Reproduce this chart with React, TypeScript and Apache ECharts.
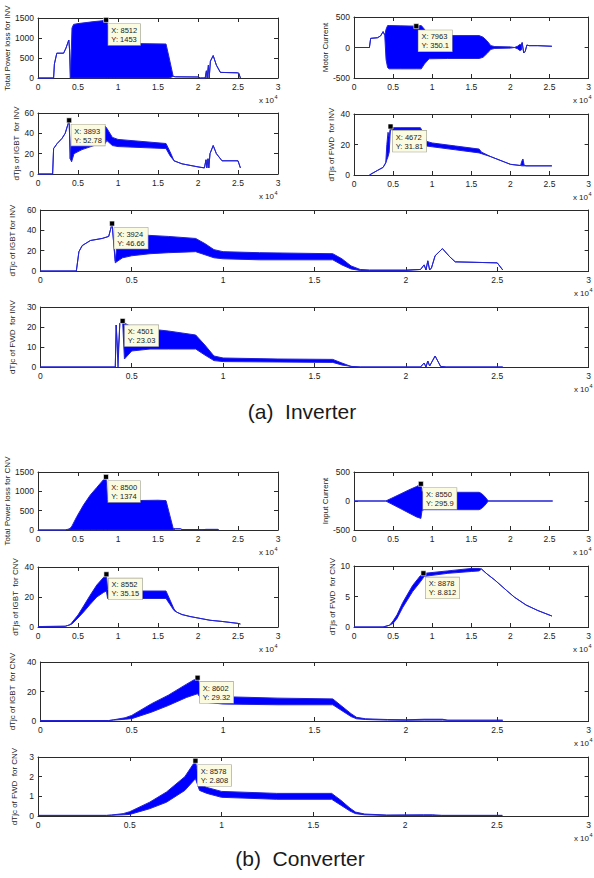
import React, { useEffect, useRef } from "react";
import * as echarts from "echarts";

// ---------------- DATA (x in raw samples) ----------------
// (a) Inverter
const p1X = [0, 1950, 2050, 2350, 3200, 3500, 3850, 3950, 4050, 4250, 4450, 5000, 6000, 7000, 8000, 8512, 8800, 9300, 9700, 12000, 14000, 16000, 16400, 16900, 17200, 20000, 20300, 20900, 21050, 21150, 21300, 21400, 21550, 21900, 22300, 22800, 24900, 25100, 25300];
const p1Hi = [0, 0, 350, 620, 620, 750, 950, 700, 0, 1250, 1340, 1360, 1385, 1410, 1430, 1453, 1300, 900, 870, 860, 855, 850, 500, 40, 30, 25, 0, 0, 180, 0, 320, 0, 420, 560, 320, 140, 130, 120, 0];
const p1Lo = [0, 0, 350, 620, 620, 750, 950, 700, 0, 0, 0, 0, 0, 0, 0, 0, 0, 0, 0, 0, 0, 0, 0, 40, 30, 25, 0, 0, 180, 0, 320, 0, 420, 560, 320, 140, 130, 120, 0];

const p2X = [0, 1970, 2130, 3000, 3400, 3720, 3930, 4100, 4300, 4500, 6000, 7963, 8600, 9000, 9600, 12000, 16000, 16500, 17000, 17500, 18000, 20000, 20500, 20900, 21200, 21400, 21500, 21700, 21900, 22100, 22400, 23500, 25300];
const p2Hi = [0, 0, 150, 160, 190, 260, 200, 300, 360, 360, 355, 350.1, 360, 300, 195, 195, 195, 170, 110, 30, 15, 10, 0, 20, 50, 40, 80, -90, -60, 40, 30, 30, 20];
const p2Lo = [0, 0, 150, 160, 190, 260, 200, -200, -330, -350, -350, -350, -350, -270, -185, -180, -180, -160, -100, -30, -15, -10, 0, -20, -50, -40, 80, -90, -60, 40, 30, 30, 20];

const p3X = [0, 1830, 1950, 2400, 3000, 3400, 3893, 4030, 4200, 4500, 5500, 7000, 8400, 8600, 9300, 10000, 13000, 16000, 16500, 17000, 18000, 20000, 20800, 21000, 21100, 21250, 21350, 21500, 21900, 22300, 23000, 25000, 25300];
const p3Hi = [0, 0, 25, 30, 35, 40, 52.78, 15, 40, 46, 46, 46, 47, 45, 36, 34, 32, 30, 22, 13, 10, 7, 6, 14, 6, 15, 6, 20, 28, 20, 13, 13, 6];
const p3Lo = [0, 0, 25, 30, 35, 40, 52.78, 15, 12, 20, 24, 28, 30, 33, 28, 27, 26, 25, 18, 13, 10, 7, 6, 14, 6, 15, 6, 20, 28, 20, 13, 13, 6];

const p4X = [1970, 3000, 3720, 4060, 4200, 4350, 4500, 4672, 4800, 6000, 8500, 9000, 9300, 10000, 13000, 16000, 16300, 17500, 19200, 20000, 21300, 21450, 21600, 21750, 22000, 25300];
const p4Hi = [0, 3, 5, 8, 20, 28, 25, 31.81, 31, 31, 31, 26, 22, 21, 19, 17, 15, 12, 8.6, 7, 6.2, 9, 10.5, 6.5, 6, 6];
const p4Lo = [0, 3, 5, 8, 10, 12, 15, 31.81, 29.5, 29.5, 29.5, 22, 19, 18.5, 16.5, 14.5, 14, 12, 8.6, 7, 6.2, 6, 6, 6, 6, 6];

const p5X = [0, 1970, 2110, 2290, 2740, 3380, 3740, 3924, 4100, 4250, 4500, 5000, 6000, 7000, 8500, 9000, 9500, 10000, 12000, 16000, 16500, 17000, 17500, 18000, 20000, 20800, 21000, 21100, 21200, 21300, 21400, 21600, 22000, 22400, 22700, 25000, 25300];
const p5Hi = [0, 0, 19, 25, 30, 32, 34, 46.66, 10, 36, 37, 36, 35, 34, 32, 27, 21, 19, 18, 17, 12, 5, 1.5, 1, 1, 1.5, 6, 1, 10, 1, 3, 15, 22, 14, 9, 8, 1];
const p5Lo = [0, 0, 19, 25, 30, 32, 34, 46.66, 8, 10, 13, 15, 17, 18, 19, 16, 13, 12, 11, 11, 6, 2, 0.5, 0.5, 0.5, 1.5, 6, 1, 10, 1, 3, 15, 22, 14, 9, 8, 1];

const p6X = [0, 4100, 4150, 4250, 4350, 4501, 4600, 5000, 6000, 7000, 8500, 9000, 9500, 10000, 13000, 16000, 16500, 17000, 17500, 20800, 21000, 21100, 21200, 21300, 21600, 21900, 22200, 25300];
const p6Hi = [0, 0, 21, 5, 22, 23.03, 22, 20, 19, 18, 16, 11, 5.5, 4.5, 4, 3.8, 2, 0.3, 0, 0, 2, 0, 3, 0.5, 5.5, 0.3, 0, 0];
const p6Lo = [0, 0, 21, 0, 22, 23.03, 4, 8, 9, 9, 9, 6, 3.2, 2.7, 2.5, 2.3, 1, 0.3, 0, 0, 2, 0, 3, 0.5, 5.5, 0.3, 0, 0];

// (b) Converter
const p7X = [0, 3400, 3700, 4000, 4240, 4860, 5700, 6520, 7350, 8180, 8500, 8700, 9000, 12000, 15000, 16000, 16900, 17200, 17800, 18000, 20000, 20500, 21000, 22500, 22600];
const p7Hi = [0, 0, 15, 40, 100, 350, 650, 900, 1100, 1300, 1374, 780, 760, 760, 770, 760, 40, 30, 30, 12, 12, 8, 15, 15, 0];
const p7Lo = [0, 0, 15, 0, 0, 0, 0, 0, 0, 0, 0, 0, 0, 0, 0, 0, 0, 30, 30, 12, 12, 8, 15, 15, 0];

const p8X = [0, 4060, 5000, 6000, 7000, 8000, 8550, 8700, 9000, 12000, 16000, 16300, 16700, 17000, 17200, 25400];
const p8Hi = [0, 0, 60, 125, 190, 250, 295.9, 160, 150, 150, 150, 130, 80, 30, 0, 0];
const p8Lo = [0, 0, -65, -135, -205, -275, -300, -160, -150, -150, -150, -130, -80, -30, 0, 0];

const p9X = [0, 3400, 3700, 4000, 4240, 5000, 5700, 6500, 7350, 8180, 8552, 8700, 9000, 12000, 16000, 16500, 17000, 17300, 18000, 19000, 20000, 21500, 23000, 25000, 25300];
const p9Hi = [0.3, 0.5, 1, 1.5, 3, 8, 14, 21, 28, 33, 35.15, 25, 24, 24, 24, 18, 12, 10, 8.3, 7, 6, 4.5, 3.7, 2.4, 2];
const p9Lo = [0.3, 0.5, 1, 1.5, 2, 6, 10, 15, 20, 23, 24, 19, 18.5, 19, 19, 15, 11, 10, 8.3, 7, 6, 4.5, 3.7, 2.4, 2];

const p10X = [0, 3720, 4560, 5000, 5500, 6230, 7490, 8540, 8878, 9000, 12000, 15000, 16000, 16300, 17000, 18000, 19500, 20500, 22000, 23500, 25300];
const p10Hi = [0, 0, 0.3, 1, 2, 4, 6.8, 8.5, 8.812, 8.8, 9.2, 9.6, 9.6, 9.5, 8.7, 7.7, 6, 4.9, 3.6, 2.7, 1.8];
const p10Lo = [0, 0, 0.3, 0.6, 1.4, 3.2, 5.8, 7.5, 8.1, 8.3, 8.8, 9.1, 9.2, 9.5, 8.7, 7.7, 6, 4.9, 3.6, 2.7, 1.8];

const p11X = [0, 3740, 4000, 4640, 5000, 6080, 7000, 8000, 8602, 8800, 9200, 10000, 13000, 16000, 16500, 17000, 17300, 17800, 19000, 20000, 21000, 22000, 22300, 25300];
const p11Hi = [0.3, 0.3, 0.8, 2.2, 3.8, 11.7, 17.5, 25, 29.32, 22, 18, 16.5, 15.5, 15, 10, 5, 2.5, 1.5, 1, 0.8, 1.2, 1.2, 0.5, 0.5];
const p11Lo = [0.3, 0.3, 0.6, 1.2, 1.6, 6, 10.5, 16, 18.5, 15, 12.5, 11.5, 11, 11, 7, 3, 1.5, 1, 0.6, 0.5, 0.6, 0.6, 0.5, 0.5];

const p12X = [0, 3740, 4000, 4640, 5000, 6080, 7000, 8000, 8578, 8800, 9200, 10000, 13000, 16000, 16500, 17000, 17300, 17800, 19000, 21000, 21500, 22000, 25300];
const p12Hi = [0.03, 0.03, 0.05, 0.12, 0.22, 0.7, 1.22, 2.0, 2.808, 1.6, 1.45, 1.25, 1.15, 1.15, 0.8, 0.4, 0.2, 0.1, 0.05, 0.06, 0.06, 0.03, 0.03];
const p12Lo = [0.03, 0.03, 0.04, 0.06, 0.08, 0.37, 0.7, 1.3, 1.9, 1.3, 1.15, 0.95, 0.85, 0.85, 0.55, 0.25, 0.12, 0.06, 0.03, 0.03, 0.03, 0.03, 0.03];

// axis names
const yNames = [
  "Total Power loss for INV", "Motor Current",
  "dTjs of IGBT  for INV", "dTjs of FWD  for INV",
  "dTjc of IGBT for INV", "dTjc of FWD  for INV",
  "Total Power loss for CNV", "Input Current",
  "dTjs of IGBT  for CNV", "dTjs of FWD  for CNV",
  "dTjc of IGBT  for CNV", "dTjc of FWD  for CNV",
];
// y ranges [min, max, step]
const yRanges = [
  [0, 1500, 500], [-500, 500, 500],
  [0, 60, 20], [0, 40, 20],
  [0, 60, 20], [0, 30, 10],
  [0, 1500, 500], [-500, 500, 500],
  [0, 40, 20], [0, 10, 5],
  [0, 40, 20], [0, 3, 1],
];
// data tips [X, Y]
const tipX = [8512, 7963, 3893, 4672, 3924, 4501, 8500, 8550, 8552, 8878, 8602, 8578];
const tipY = ["1453", "350.1", "52.78", "31.81", "46.66", "23.03", "1374", "295.9", "35.15", "8.812", "29.32", "2.808"];
const xMax = 30000;
const xStep = 5000;
const xScaleLabel = "x 10";
const xScaleExp = "4";
const titles = ["(a)  Inverter", "(b)  Converter"];

const seriesX = [p1X, p2X, p3X, p4X, p5X, p6X, p7X, p8X, p9X, p10X, p11X, p12X];
const seriesHi = [p1Hi, p2Hi, p3Hi, p4Hi, p5Hi, p6Hi, p7Hi, p8Hi, p9Hi, p10Hi, p11Hi, p12Hi];
const seriesLo = [p1Lo, p2Lo, p3Lo, p4Lo, p5Lo, p6Lo, p7Lo, p8Lo, p9Lo, p10Lo, p11Lo, p12Lo];

// ---------------- LAYOUT ----------------
const W = 594;
const H = 878;
// [left, top, width, height, nameGap]
const grids = [
  [38, 18, 240, 60, 27], [354, 17, 238, 61, 25],
  [38, 113, 240, 61, 18], [354, 114, 238, 61, 19],
  [38, 210, 555, 61, 19], [38, 307, 555, 60, 19],
  [38, 472, 240, 58, 27], [354, 472, 238, 58, 24],
  [38, 567, 240, 60, 19], [354, 566, 238, 61, 18],
  [38, 662, 555, 59, 18], [38, 757, 555, 59, 16],
];
const titlePos = [[302, 411], [300, 858]];

const FONT = "'Liberation Sans', Arial, sans-serif";
const BLUE = "#0000ff";
const LINE = "#2323d6";
const AX = "#2a2a2a";

export default function App() {
  const ref = useRef<HTMLDivElement>(null);

  useEffect(() => {
    if (!ref.current) return;
    const chart = echarts.init(ref.current, null, { renderer: "svg" });

    const grid: any[] = [];
    const xAxis: any[] = [];
    const yAxis: any[] = [];
    const series: any[] = [];
    const graphic: any[] = [];

    grids.forEach((g, i) => {
      const [left, top, width, height, nameGap] = g;
      grid.push({ left, top, width, height, containLabel: false });
      const xLine = { show: true, onZero: false, lineStyle: { color: AX, width: 1 } };
      const xCommon = {
        type: "value",
        gridIndex: i,
        min: 0,
        max: xMax,
        interval: xStep,
        axisLine: xLine,
        axisTick: { show: true, inside: true, length: 4, lineStyle: { color: AX } },
        splitLine: { show: false },
      };
      xAxis.push({
        ...xCommon,
        position: "bottom",
        axisLabel: {
          show: true,
          fontSize: 8.5,
          fontFamily: FONT,
          color: "#222",
          margin: 4,
          formatter: (v: number) => String(v / 10000),
        },
      });
      xAxis.push({ ...xCommon, position: "top", axisLabel: { show: false } });
      const [ymin, ymax, ystep] = yRanges[i];
      const yCommon = {
        type: "value",
        gridIndex: i,
        min: ymin,
        max: ymax,
        interval: ystep,
        axisLine: { show: true, onZero: false, lineStyle: { color: AX, width: 1 } },
        axisTick: { show: true, inside: true, length: 4, lineStyle: { color: AX } },
        splitLine: { show: false },
      };
      yAxis.push({
        ...yCommon,
        position: "left",
        name: yNames[i],
        nameLocation: "middle",
        nameGap,
        nameTextStyle: { fontSize: 8, fontFamily: FONT, color: "#222" },
        axisLabel: {
          show: true,
          fontSize: 8.5,
          fontFamily: FONT,
          color: "#222",
          margin: 4,
          formatter: (v: number) => String(v),
        },
      });
      yAxis.push({ ...yCommon, position: "right", axisLabel: { show: false } });

      const xs = seriesX[i];
      const hi = seriesHi[i];
      const lo = seriesLo[i];
      series.push({
        type: "custom",
        xAxisIndex: 2 * i,
        yAxisIndex: 2 * i,
        data: [[xs[0], lo[0]]],
        encode: { x: 0, y: 1 },
        silent: true,
        renderItem: (params: any, api: any) => {
          const upper = xs.map((x, k) => api.coord([x, hi[k]]));
          const lower = xs.map((x, k) => api.coord([x, lo[k]])).reverse();
          return {
            type: "polygon",
            shape: { points: upper.concat(lower) },
            style: { fill: BLUE, stroke: LINE, lineWidth: 1, lineJoin: "round" },
          };
        },
      });
      series.push({
        type: "scatter",
        xAxisIndex: 2 * i,
        yAxisIndex: 2 * i,
        z: 10,
        silent: true,
        symbol: "rect",
        symbolSize: 5,
        itemStyle: { color: "#000", borderColor: "#fff", borderWidth: 0.6, opacity: 1 },
        data: [[tipX[i], parseFloat(tipY[i])]],
        label: {
          show: true,
          position: [5, 7],
          formatter: `X: ${tipX[i]}\nY: ${tipY[i]}`,
          fontSize: 7.5,
          lineHeight: 9,
          fontFamily: FONT,
          color: "#222",
          backgroundColor: "#fbfbe2",
          borderColor: "#a0a090",
          borderWidth: 0.6,
          padding: [2, 3, 1, 3],
          align: "left",
          verticalAlign: "top",
        },
      });

      const right = left + width;
      const bottom = top + height;
      graphic.push({
        type: "text",
        x: right - 4,
        y: bottom + 22,
        style: { text: xScaleLabel, fontSize: 8, fontFamily: FONT, fill: "#222", align: "right", verticalAlign: "middle" },
      });
      graphic.push({
        type: "text",
        x: right - 3.5,
        y: bottom + 18.5,
        style: { text: xScaleExp, fontSize: 5.5, fontFamily: FONT, fill: "#222", align: "left", verticalAlign: "middle" },
      });
    });

    titles.forEach((t, k) => {
      graphic.push({
        type: "text",
        x: titlePos[k][0],
        y: titlePos[k][1],
        style: { text: t, fontSize: 21, fontFamily: FONT, fill: "#1a1a1a", align: "center", verticalAlign: "middle" },
      });
    });

    chart.setOption({
      animation: false,
      backgroundColor: "#ffffff",
      grid,
      xAxis,
      yAxis,
      series,
      graphic,
    });

    return () => chart.dispose();
  }, []);

  return (
    <div
      ref={ref}
      style={{ position: "absolute", left: 0, top: 0, width: W, height: H, background: "#fff" }}
    />
  );
}
